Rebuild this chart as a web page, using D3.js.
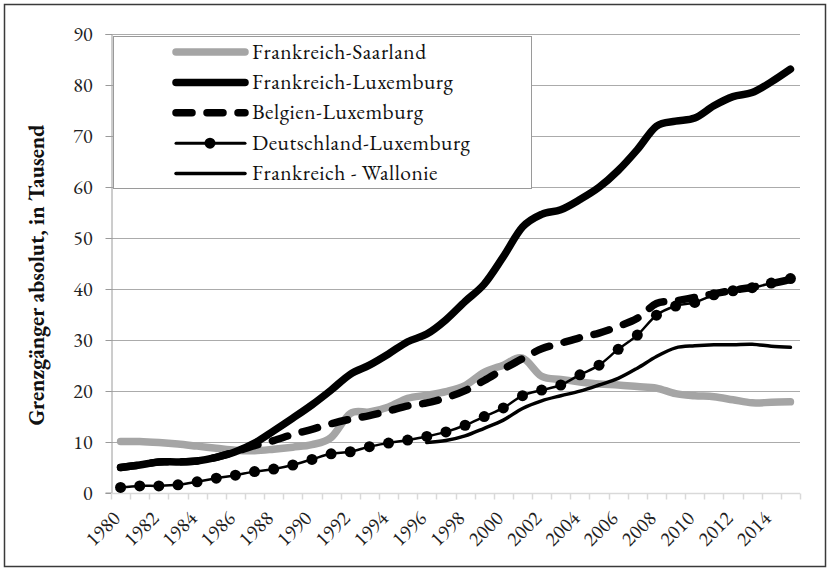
<!DOCTYPE html>
<html lang="de">
<head>
<meta charset="UTF-8">
<title>Grenzgänger</title>
<script src="https://d3js.org/d3.v7.min.js"></script>
<style>
    body { margin: 0; background: #fff; }
</style>
</head>
<body>
<svg id="chart" width="830" height="570"></svg>
<script>
    const years = d3.range(1980, 2016);
    const yTicks = [0, 10, 20, 30, 40, 50, 60, 70, 80, 90];

    const saarland = [10.0, 10.0, 9.8, 9.5, 9.1, 8.7, 8.3, 8.2, 8.5, 8.9, 9.4, 10.8, 15.5, 15.8, 16.8, 18.5,
        19.1, 19.8, 21.0, 23.6, 25.0, 26.4, 22.8, 22.2, 21.7, 21.3, 21.1, 20.8, 20.5, 19.4, 19.0, 18.8,
        18.2, 17.6, 17.7, 17.8];
    const frLux = [4.9, 5.4, 6.0, 6.0, 6.2, 6.9, 8.0, 9.7, 12.1, 14.6, 17.2, 20.1, 23.2, 25.0, 27.2, 29.6,
        31.1, 33.9, 37.5, 40.9, 46.3, 52.1, 54.6, 55.5, 57.5, 59.9, 63.2, 67.3, 71.9, 72.9, 73.5, 75.9,
        77.7, 78.5, 80.6, 83.1];
    const beLux = [4.9, 5.4, 6.0, 6.0, 6.2, 6.9, 8.0, 9.2, 10.2, 11.4, 12.4, 13.5, 14.4, 15.1, 16.0, 17.0,
        17.6, 18.6, 20.0, 22.0, 24.2, 26.3, 28.2, 29.3, 30.4, 31.3, 32.6, 34.2, 37.1, 37.6, 38.3, 39.0,
        39.7, 40.3, 41.0, 41.8];
    const deLux = [1.0, 1.3, 1.3, 1.5, 2.1, 2.8, 3.4, 4.1, 4.6, 5.4, 6.5, 7.6, 8.0, 9.0, 9.7, 10.3,
        11.0, 11.9, 13.2, 14.9, 16.6, 19.0, 20.1, 21.1, 23.1, 25.0, 28.1, 30.9, 34.8, 36.6, 37.3, 38.8,
        39.6, 40.2, 41.1, 42.0];
    // Frankreich - Wallonie erst ab 1996
    const frWal = [null, null, null, null, null, null, null, null, null, null, null, null, null, null, null, null,
        9.8, 10.2, 11.1, 12.6, 14.2, 16.5, 18.0, 19.0, 19.9, 21.1, 22.4, 24.4, 26.7, 28.4, 28.8, 29.0,
        29.0, 29.1, 28.7, 28.5];

    const series = [
        {name: "Frankreich-Saarland", values: saarland, color: "#a5a5a5", width: 7.5},
        {name: "Frankreich-Luxemburg", values: frLux, color: "#000", width: 7.5},
        {name: "Belgien-Luxemburg", values: beLux, color: "#000", width: 7.5, dash: "16,15"},
        {name: "Deutschland-Luxemburg", values: deLux, color: "#000", width: 2.5, dots: true},
        {name: "Frankreich - Wallonie", values: frWal, color: "#000", width: 3.5}
    ];

    const FONT = "'EB Garamond', 'Liberation Serif', serif";
    const svg = d3.select("#chart");
    const margin = {left: 111, right: 30, top: 34, bottom: 77.5};
    const W = 830, H = 570;

    // outer frame
    svg.append("rect")
        .attr("x", 4.5).attr("y", 4.5)
        .attr("width", 821).attr("height", 562)
        .attr("fill", "none").attr("stroke", "#3a3a3a").attr("stroke-width", 1.5);

    const x = d3.scaleBand().domain(years).range([margin.left, W - margin.right]);
    const y = d3.scaleLinear().domain([0, 90]).range([H - margin.bottom, margin.top]);

    // gridlines
    svg.append("g")
        .selectAll("line")
        .data(yTicks.filter(d => d > 0))
        .enter().append("line")
        .attr("x1", margin.left).attr("x2", W - margin.right)
        .attr("y1", d => Math.round(y(d)) + 0.5).attr("y2", d => Math.round(y(d)) + 0.5)
        .attr("stroke", "#ababab").attr("stroke-width", 1);

    // y axis
    const yAxis = svg.append("g")
        .attr("transform", `translate(${margin.left + 0.5},0)`)
        .call(d3.axisLeft(y).tickValues(yTicks).tickSize(6).tickPadding(13));
    yAxis.select(".domain").attr("stroke", "#9a9a9a");
    yAxis.selectAll(".tick line").attr("stroke", "#9a9a9a");
    yAxis.selectAll(".tick").attr("transform", d => `translate(0,${Math.round(y(d)) + 0.5})`);
    yAxis.selectAll("text")
        .style("font-family", FONT)
        .attr("font-size", 20).attr("fill", "#222");

    // x axis: ticks at category boundaries
    const xAxisY = Math.round(y(0)) + 0.5;
    const xg = svg.append("g");
    xg.append("line")
        .attr("x1", margin.left).attr("x2", W - margin.right)
        .attr("y1", xAxisY).attr("y2", xAxisY)
        .attr("stroke", "#d9d9d9").attr("stroke-width", 1.5);
    xg.selectAll("line.tk")
        .data(years.concat([2016]))
        .enter().append("line")
        .attr("class", "tk")
        .attr("x1", d => Math.round(d === 2016 ? x.range()[1] : x(d)) + 0.5)
        .attr("x2", d => Math.round(d === 2016 ? x.range()[1] : x(d)) + 0.5)
        .attr("y1", xAxisY).attr("y2", xAxisY + 6)
        .attr("stroke", "#d9d9d9").attr("stroke-width", 1.5);
    xg.selectAll("text")
        .data(years.filter(d => d % 2 === 0))
        .enter().append("text")
        .attr("transform", d => `translate(${x(d) + x.bandwidth() / 2 + 1},${xAxisY + 26}) rotate(-45)`)
        .attr("text-anchor", "end")
        .style("font-family", FONT)
        .attr("font-size", 20.5).attr("fill", "#222")
        .text(d => d);

    // y axis title
    svg.append("text")
        .attr("transform", `translate(44,275) rotate(-90)`)
        .attr("text-anchor", "middle")
        .style("font-family", FONT)
        .attr("font-size", 22).attr("font-weight", "bold").attr("fill", "#111")
        .text("Grenzgänger absolut, in Tausend");

    // lines
    const line = d3.line()
        .defined(d => d.v !== null)
        .x(d => x(d.year) + x.bandwidth() / 2)
        .y(d => y(d.v))
        .curve(d3.curveCatmullRom.alpha(0));

    series.forEach(s => {
        const pts = years.map((yr, i) => ({year: yr, v: s.values[i]}));
        svg.append("path")
            .datum(pts)
            .attr("d", line)
            .attr("fill", "none")
            .attr("stroke", s.color)
            .attr("stroke-width", s.width)
            .attr("stroke-linecap", "round")
            .attr("stroke-linejoin", "round")
            .attr("stroke-dasharray", s.dash || null);
        if (s.dots) {
            svg.append("g").selectAll("circle")
                .data(pts.filter(d => d.v !== null))
                .enter().append("circle")
                .attr("cx", d => x(d.year) + x.bandwidth() / 2)
                .attr("cy", d => y(d.v))
                .attr("r", 5.5)
                .attr("fill", s.color);
        }
    });

    // legend
    const lg = svg.append("g");
    lg.append("rect")
        .attr("x", 113.5).attr("y", 36.5)
        .attr("width", 418).attr("height", 152)
        .attr("fill", "#fff").attr("stroke", "#9a9a9a").attr("stroke-width", 1);

    series.forEach((s, i) => {
        const ly = 52 + i * 30.4;
        lg.append("line")
            .attr("x1", 176).attr("x2", 245)
            .attr("y1", ly).attr("y2", ly)
            .attr("stroke", s.color)
            .attr("stroke-width", s.dots ? 3 : s.width)
            .attr("stroke-linecap", "round")
            .attr("stroke-dasharray", s.dash || null);
        if (s.dots) {
            lg.append("circle").attr("cx", 210).attr("cy", ly).attr("r", 5.5).attr("fill", s.color);
        }
        lg.append("text")
            .attr("x", 252).attr("y", ly + 6.5)
            .style("font-family", FONT)
            .style("letter-spacing", "0.5px")
            .attr("font-size", 21.5).attr("fill", "#111")
            .text(s.name);
    });
</script>
</body>
</html>
